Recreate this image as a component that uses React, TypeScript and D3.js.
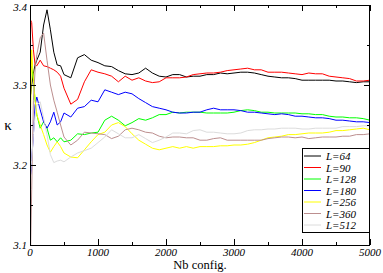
import React from "react"
import * as d3 from "d3"

// configurations sampled (Nb config.)
const configs = [10, 25, 50, 75, 100, 150, 200, 250, 300, 350, 400, 450, 500,
  600, 700, 800, 900, 1000, 1100, 1200, 1300, 1400, 1500, 1600, 1700, 1800, 1900, 2000,
  2100, 2200, 2300, 2400, 2500, 2600, 2700, 2800, 2900, 3000, 3100, 3200, 3300, 3400, 3500,
  3600, 3700, 3800, 3900, 4000, 4100, 4200, 4300, 4400, 4500, 4600, 4700, 4800, 4900, 5000]

const kappa64 = [3.288, 3.300, 3.315, 3.325, 3.331, 3.341, 3.375, 3.394, 3.369, 3.341, 3.325, 3.324, 3.313,
  3.309, 3.334, 3.338, 3.331, 3.328, 3.324, 3.323, 3.318, 3.314, 3.313, 3.315, 3.321, 3.315, 3.311, 3.310,
  3.313, 3.313, 3.310, 3.311, 3.311, 3.313, 3.313, 3.315, 3.314, 3.315, 3.316, 3.316, 3.315, 3.313, 3.311,
  3.310, 3.309, 3.309, 3.308, 3.306, 3.306, 3.306, 3.306, 3.306, 3.305, 3.305, 3.304, 3.303, 3.304, 3.304]

const kappa90 = [3.381, 3.378, 3.344, 3.325, 3.324, 3.331, 3.324, 3.323, 3.321, 3.319, 3.316, 3.311, 3.296,
  3.276, 3.282, 3.304, 3.319, 3.316, 3.314, 3.311, 3.304, 3.311, 3.306, 3.309, 3.305, 3.303, 3.304, 3.309,
  3.309, 3.309, 3.310, 3.313, 3.314, 3.315, 3.315, 3.316, 3.318, 3.319, 3.320, 3.321, 3.319, 3.319, 3.316,
  3.316, 3.316, 3.315, 3.314, 3.313, 3.315, 3.314, 3.314, 3.311, 3.310, 3.309, 3.308, 3.305, 3.305, 3.306]

const kappa128 = [3.321, 3.324, 3.306, 3.281, 3.263, 3.246, 3.254, 3.246, 3.231, 3.234, 3.229, 3.234, 3.229,
  3.231, 3.239, 3.238, 3.240, 3.241, 3.256, 3.261, 3.256, 3.249, 3.253, 3.258, 3.256, 3.259, 3.263, 3.263,
  3.266, 3.265, 3.266, 3.266, 3.266, 3.265, 3.265, 3.265, 3.265, 3.266, 3.268, 3.269, 3.268, 3.266, 3.266,
  3.265, 3.265, 3.265, 3.265, 3.264, 3.264, 3.263, 3.263, 3.261, 3.260, 3.260, 3.259, 3.259, 3.258, 3.256]

const kappa180 = [3.188, 3.206, 3.238, 3.275, 3.285, 3.269, 3.254, 3.246, 3.254, 3.266, 3.250, 3.254, 3.265,
  3.260, 3.271, 3.273, 3.281, 3.279, 3.294, 3.291, 3.288, 3.291, 3.289, 3.283, 3.278, 3.273, 3.271, 3.269,
  3.266, 3.265, 3.265, 3.266, 3.266, 3.269, 3.271, 3.269, 3.269, 3.269, 3.268, 3.266, 3.266, 3.265, 3.264,
  3.263, 3.264, 3.263, 3.261, 3.261, 3.260, 3.259, 3.259, 3.258, 3.256, 3.256, 3.255, 3.254, 3.254, 3.253]

const kappa256 = [3.269, 3.344, 3.306, 3.281, 3.263, 3.250, 3.238, 3.225, 3.216, 3.223, 3.229, 3.223, 3.215,
  3.210, 3.209, 3.219, 3.229, 3.238, 3.241, 3.250, 3.253, 3.248, 3.239, 3.231, 3.226, 3.221, 3.219, 3.221,
  3.223, 3.221, 3.223, 3.221, 3.223, 3.223, 3.223, 3.224, 3.224, 3.225, 3.225, 3.226, 3.228, 3.231, 3.234,
  3.235, 3.236, 3.238, 3.238, 3.239, 3.240, 3.240, 3.240, 3.241, 3.243, 3.243, 3.244, 3.245, 3.246, 3.244]

const kappa360 = [3.100, 3.169, 3.281, 3.319, 3.338, 3.359, 3.365, 3.331, 3.300, 3.281, 3.266, 3.250, 3.235,
  3.225, 3.231, 3.241, 3.240, 3.239, 3.238, 3.233, 3.236, 3.244, 3.246, 3.244, 3.241, 3.240, 3.236, 3.234,
  3.235, 3.235, 3.234, 3.234, 3.231, 3.231, 3.233, 3.234, 3.231, 3.231, 3.231, 3.231, 3.231, 3.231, 3.233,
  3.234, 3.235, 3.235, 3.234, 3.235, 3.233, 3.234, 3.235, 3.235, 3.235, 3.236, 3.236, 3.238, 3.238, 3.239]

const kappa512 = [3.194, 3.206, 3.238, 3.263, 3.275, 3.279, 3.259, 3.238, 3.213, 3.203, 3.205, 3.206, 3.204,
  3.210, 3.215, 3.218, 3.221, 3.228, 3.235, 3.244, 3.239, 3.234, 3.234, 3.238, 3.233, 3.228, 3.231, 3.235,
  3.240, 3.240, 3.239, 3.243, 3.244, 3.241, 3.241, 3.240, 3.239, 3.239, 3.240, 3.243, 3.244, 3.244, 3.245,
  3.245, 3.246, 3.246, 3.246, 3.245, 3.245, 3.246, 3.246, 3.246, 3.246, 3.248, 3.248, 3.248, 3.249, 3.249]

const seriesLabels = ["L=64", "L=90", "L=128", "L=180", "L=256", "L=360", "L=512"]
const seriesValues = [kappa64, kappa90, kappa128, kappa180, kappa256, kappa360, kappa512]
const seriesColors = ["#000000", "#ff0000", "#00ff00", "#0000ff", "#ffff00", "#bc8f8f", "#dcdcdc"]

const xTickLabels = ["0", "1000", "2000", "3000", "4000", "5000"]
const yTickLabels = ["3.1", "3.2", "3.3", "3.4"]

const W = 383
const H = 273
const left = 30, right = 370, top = 5, bottom = 245
const serif = "'Liberation Serif', 'Times New Roman', Times, serif"

const App: React.FC = () => {
  const x = d3.scaleLinear().domain([0, 5000]).range([left, right])
  const y = d3.scaleLinear().domain([3.1, 3.4]).range([bottom, top])

  const line = d3.line<number>()
    .x((_, i) => x(configs[i]))
    .y(d => y(d))

  const xMinor = d3.range(0, 5001, 500)
  const yMinor = d3.range(3.1, 3.4001, 0.05)

  return (
    <svg width={W} height={H} style={{ position: "absolute", left: 0, top: 0, background: "#fff" }}>
      <defs>
        <clipPath id="plot-clip">
          <rect x={left} y={top} width={right - left} height={bottom - top} />
        </clipPath>
      </defs>

      <g clipPath="url(#plot-clip)">
        {seriesValues.map((vals, i) => (
          <path key={seriesLabels[i]} d={line(vals) || ""} fill="none"
            stroke={seriesColors[i]} strokeWidth={1} />
        ))}
      </g>

      {/* ticks, inward on all four sides */}
      <g stroke="#000" strokeWidth={1}>
        {xMinor.map(v => {
          const major = v % 1000 === 0
          const len = major ? 6 : 3
          const px = Math.round(x(v)) + 0.5
          return (
            <g key={"xt" + v}>
              <line x1={px} x2={px} y1={bottom} y2={bottom - len} />
              <line x1={px} x2={px} y1={top} y2={top + len} />
            </g>
          )
        })}
        {yMinor.map((v, i) => {
          const len = i % 2 === 0 ? 6 : 3
          const py = Math.round(y(v)) + 0.5
          return (
            <g key={"yt" + i}>
              <line x1={left} x2={left + len} y1={py} y2={py} />
              <line x1={right} x2={right - len} y1={py} y2={py} />
            </g>
          )
        })}
      </g>

      <rect x={left + 0.5} y={top + 0.5} width={right - left - 1} height={bottom - top}
        fill="none" stroke="#000" strokeWidth={1} />

      {xTickLabels.map(t => (
        <text key={"xl" + t} x={x(+t)} y={256} textAnchor="middle"
          fontFamily={serif} fontStyle="italic" fontSize={11}>{t}</text>
      ))}
      {yTickLabels.map(t => (
        <text key={"yl" + t} x={27} y={Math.max(y(+t), 7) + 4} textAnchor="end"
          fontFamily={serif} fontStyle="italic" fontSize={11}>{t}</text>
      ))}

      <text x={(left + right) / 2} y={269} textAnchor="middle" fontFamily={serif} fontSize={12.5}>Nb config.</text>
      <text x={8} y={130} textAnchor="middle" fontFamily={serif} fontSize={15}>κ</text>

      {/* legend */}
      <g>
        <rect x={302.5} y={148.5} width={67} height={84} fill="#fff" stroke="#000" strokeWidth={1} />
        {seriesLabels.map((lab, i) => {
          const ly = 156 + i * 11.5
          return (
            <g key={"lg" + lab}>
              <line x1={304} x2={321} y1={ly} y2={ly} stroke={seriesColors[i]} strokeWidth={1} />
              <text x={326} y={ly + 4} fontFamily={serif}
                fontStyle="italic" fontSize={11}>{lab}</text>
            </g>
          )
        })}
      </g>
    </svg>
  )
}

export default App
